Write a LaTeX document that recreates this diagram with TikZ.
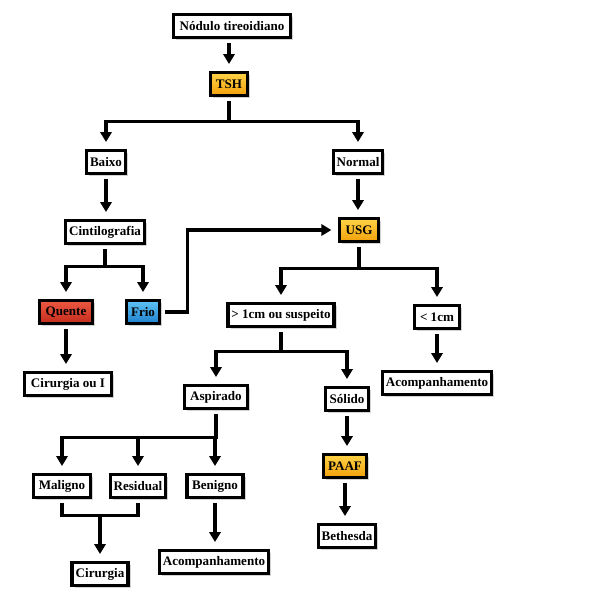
\documentclass[tikz,border=0pt]{standalone}
\usepackage{fontspec}
\setmainfont{Liberation Serif}
\usetikzlibrary{arrows.meta,shadows}
\definecolor{ortop}{RGB}{255,212,72}
\definecolor{orbot}{RGB}{242,160,10}
\definecolor{rdtop}{RGB}{236,88,66}
\definecolor{rdbot}{RGB}{196,44,28}
\definecolor{bltop}{RGB}{96,196,244}
\definecolor{blbot}{RGB}{30,128,206}
\tikzset{box/.style={draw,line width=2.5pt,fill=white,font=\bfseries\fontsize{9.8}{11}\selectfont,
   minimum height=17.5pt,inner xsep=2.5pt,inner ysep=2pt,
   drop shadow={shadow xshift=2pt,shadow yshift=-2pt,opacity=.35}},
 obox/.style={box,top color=ortop,bottom color=orbot},
 rbox/.style={box,top color=rdtop,bottom color=rdbot},
 bbox/.style={box,top color=bltop,bottom color=blbot},
 wire/.style={line width=2.3pt,shorten <=3pt,shorten >=3pt},
 arr/.style={line width=2.3pt,-{Triangle[length=7.5pt,width=8.5pt]},shorten <=3pt,shorten >=5pt}}
\begin{document}
\begin{tikzpicture}[x=.75pt,y=-.75pt]
\useasboundingbox (0,0) rectangle (599,597);
% nodes
\node[box,minimum width=88pt] (nod) at (232,26) {Nódulo tireoidiano};
\node[obox,minimum width=28pt] (tsh) at (229,84) {TSH};
\node[box,minimum width=29pt] (bai) at (106,162) {Baixo};
\node[box,minimum width=35pt] (nor) at (358,162) {Normal};
\node[box,minimum width=57pt] (cin) at (105,232) {Cintilografia};
\node[rbox,minimum width=40pt] (que) at (66,312) {Quente};
\node[bbox,minimum width=25pt] (fri) at (143,312) {Frio};
\node[box,minimum width=65pt] (cir1) at (68,384) {Cirurgia ou I};
\node[obox,minimum width=29pt] (usg) at (359,230) {USG};
\node[box,minimum width=78pt] (mai) at (281,315) {> 1cm ou suspeito};
\node[box,minimum width=34pt] (men) at (437,317) {< 1cm};
\node[box,minimum width=79pt] (aco1) at (437,383) {Acompanhamento};
\node[box,minimum width=47pt] (asp) at (216,397) {Aspirado};
\node[box,minimum width=32pt] (sol) at (347,399) {Sólido};
\node[obox,minimum width=32pt] (paa) at (345,466) {PAAF};
\node[box,minimum width=43pt] (bet) at (347,536) {Bethesda};
\node[box,minimum width=43pt] (mal) at (62,486) {Maligno};
\node[box,minimum width=40pt] (res) at (138,486) {Residual};
\node[box,minimum width=42pt] (ben) at (215,486) {Benigno};
\node[box,minimum width=42pt] (cir2) at (100,574) {Cirurgia};
\node[box,minimum width=79pt] (aco2) at (214,562) {Acompanhamento};
% connectors
\draw[arr] (tsh |- nod.south) -- (tsh.north);
\draw[arr] (tsh.south) -- ++(0,24) -| (bai.north);
\draw[arr] (tsh.south) -- ++(0,24) -| (nor.north);
\draw[arr] (bai.south) -- (bai.south |- cin.north);
\draw[arr] (cin.south) -- ++(0,21) -| (que.north);
\draw[arr] (cin.south) -- ++(0,21) -| (fri.north);
\draw[arr] (que.south) -- (que.south |- cir1.north);
\draw[arr] (fri.east) -- ++(26,0) |- (usg.west);
\draw[arr] (nor.south) -- (nor.south |- usg.north);
\draw[arr] (usg.south) -- ++(0,25) -| (mai.north);
\draw[arr] (usg.south) -- ++(0,25) -| (men.north);
\draw[arr] (men.south) -- (men.south |- aco1.north);
\draw[arr] (mai.south) -- ++(0,23) -| (asp.north);
\draw[arr] (mai.south) -- ++(0,23) -| (sol.north);
\draw[arr] (sol.south) -- (sol.south |- paa.north);
\draw[arr] (paa.south) -- (paa.south |- bet.north);
\draw[arr] (asp.south) -- ++(0,27) -| (mal.north);
\draw[arr] (asp.south) -- ++(0,27) -| (res.north);
\draw[arr] (asp.south) -- ++(0,27) -| (ben.north);
\draw[wire] (mal.south) -- ++(0,16) coordinate (jn) -| (res.south);
\draw[arr,shorten <=-1pt] (jn -| cir2.north) -- (cir2.north);
\draw[arr] (ben.south) -- (ben.south |- aco2.north);
\end{tikzpicture}
\end{document}
